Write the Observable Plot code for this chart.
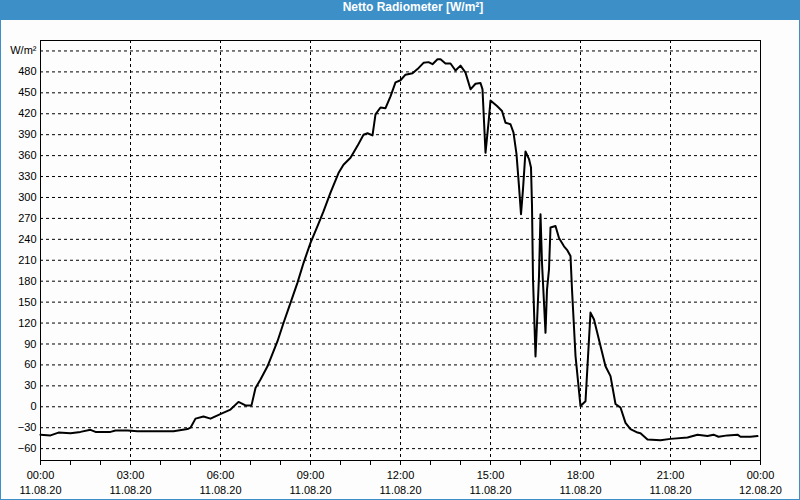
<!DOCTYPE html>
<html>
<head>
<meta charset="utf-8">
<script src="https://cdn.jsdelivr.net/npm/d3@7"></script>
<script src="https://cdn.jsdelivr.net/npm/@observablehq/plot@0.6"></script>
<style>
  html, body { margin: 0; padding: 0; background: #fcfdfc; }
  #wrap { position: relative; width: 800px; height: 500px; overflow: hidden; background: #fcfdfc; }
  #title { height: 20px; line-height: 20px; background: #3d8fc7; color: #fff; font: bold 12px "Liberation Sans", Arial, sans-serif; text-align: center; box-sizing: border-box; padding-left: 26px; }
  #border { position: absolute; left: 0; top: 0; width: 800px; height: 500px; box-sizing: border-box; border: 1px solid #3d8fc7; pointer-events: none; }
  svg { display: block; }
</style>
</head>
<body>
<div id="wrap">
  <div id="title">Netto Radiometer [W/m²]</div>
  <div id="chart"></div>
  <div id="border"></div>
</div>
<script>
const times = ["00:00","00:20","00:36","01:00","01:20","01:40","01:50","02:20","02:30","02:54","03:14","04:26","04:54","05:00","05:10","05:26","05:40","06:04","06:20","06:36","06:42","06:50","07:02","07:10","07:20","07:34","07:54","08:06","08:20","08:34","08:46","09:00","09:14","09:26","09:40","09:56","10:06","10:20","10:34","10:46","10:54","11:04","11:10","11:20","11:30","11:40","11:50","12:00","12:10","12:24","12:34","12:46","12:56","13:04","13:14","13:20","13:30","13:40","13:50","14:00","14:10","14:20","14:30","14:40","14:44","14:50","14:56","15:00","15:13","15:23","15:30","15:40","15:46","15:52","15:57","16:01","16:05","16:10","16:17","16:21","16:23","16:25","16:30","16:33","16:37","16:40","16:43","16:50","16:53","16:57","17:00","17:10","17:17","17:27","17:33","17:40","17:43","17:50","18:00","18:10","18:20","18:27","18:40","18:50","19:00","19:10","19:20","19:30","19:40","19:54","20:00","20:14","20:40","21:00","21:34","21:54","22:14","22:26","22:36","22:54","23:14","23:20","23:40","23:54"];
const values = [-40,-41,-37,-38,-36,-33,-36,-36,-34,-34,-35,-35,-32,-30,-17,-14,-17,-9,-4,7,5,2,2,27,39,58,94,120,149,178,206,235,259,280,307,335,347,357,374,390,392,389,419,429,428,445,465,468,476,478,484,493,494,491,498,498,492,492,482,489,479,455,463,464,455,364,407,439,431,424,407,405,393,362,316,276,312,366,355,343,288,183,72,120,187,276,206,106,168,197,257,259,242,230,225,216,168,73,1,8,135,125,87,58,44,4,-1,-23,-32,-37,-38,-47,-48,-46,-44,-40,-42,-40,-43,-41,-40,-43,-43,-42];
const yTicks = [-60,-30,0,30,60,90,120,150,180,210,240,270,300,330,360,390,420,450,480];
const yGrid = [-60,-30,0,30,60,90,120,150,180,210,240,270,300,330,360,390,420,450,480,510];
const xTicks = [0,3,6,9,12,15,18,21,24];
const xGrid = [3,6,9,12,15,18,21];
const hourTicks = d3.range(0, 25);
const timeLabels = ["00:00","03:00","06:00","09:00","12:00","15:00","18:00","21:00","00:00"];
const dateLabels = ["11.08.20","11.08.20","11.08.20","11.08.20","11.08.20","11.08.20","11.08.20","11.08.20","12.08.20"];

const toHours = s => { const [h, m] = s.split(":").map(Number); return h + m / 60; };
const data = times.map((t, i) => ({h: toHours(t), v: values[i]}));

const dash = {stroke: "black", strokeOpacity: 1, strokeWidth: 1, strokeDasharray: "3,3"};

const chart = Plot.plot({
  width: 800,
  height: 480,
  marginTop: 20,
  marginBottom: 40,
  marginLeft: 40,
  marginRight: 40,
  style: {fontSize: "11px", fontFamily: "'Liberation Sans', Arial, sans-serif", background: "#fcfdfc", color: "black"},
  x: {type: "linear", domain: [0, 24]},
  y: {domain: [-77, 525]},
  marks: [
    Plot.gridY(yGrid, dash),
    Plot.gridX(xGrid, dash),
    Plot.axisY(yTicks, {tickSize: 0, tickPadding: 4, label: null}),
    Plot.axisX(hourTicks, {tickSize: 5, tickFormat: () => "", label: null}),
    Plot.axisX(xTicks, {tickSize: 0, tickPadding: 11, tickFormat: d => timeLabels[xTicks.indexOf(d)], label: null}),
    Plot.axisX(xTicks, {tickSize: 0, tickPadding: 26, tickFormat: d => dateLabels[xTicks.indexOf(d)], label: null}),
    Plot.frame({stroke: "black"}),
    Plot.line(data, {x: "h", y: "v", stroke: "black", strokeWidth: 2}),
    Plot.text(["W/m²"], {frameAnchor: "top-left", text: d => d, textAnchor: "end", dx: -4, dy: 6, fontSize: 11})
  ]
});
document.getElementById("chart").appendChild(chart);
</script>
</body>
</html>
